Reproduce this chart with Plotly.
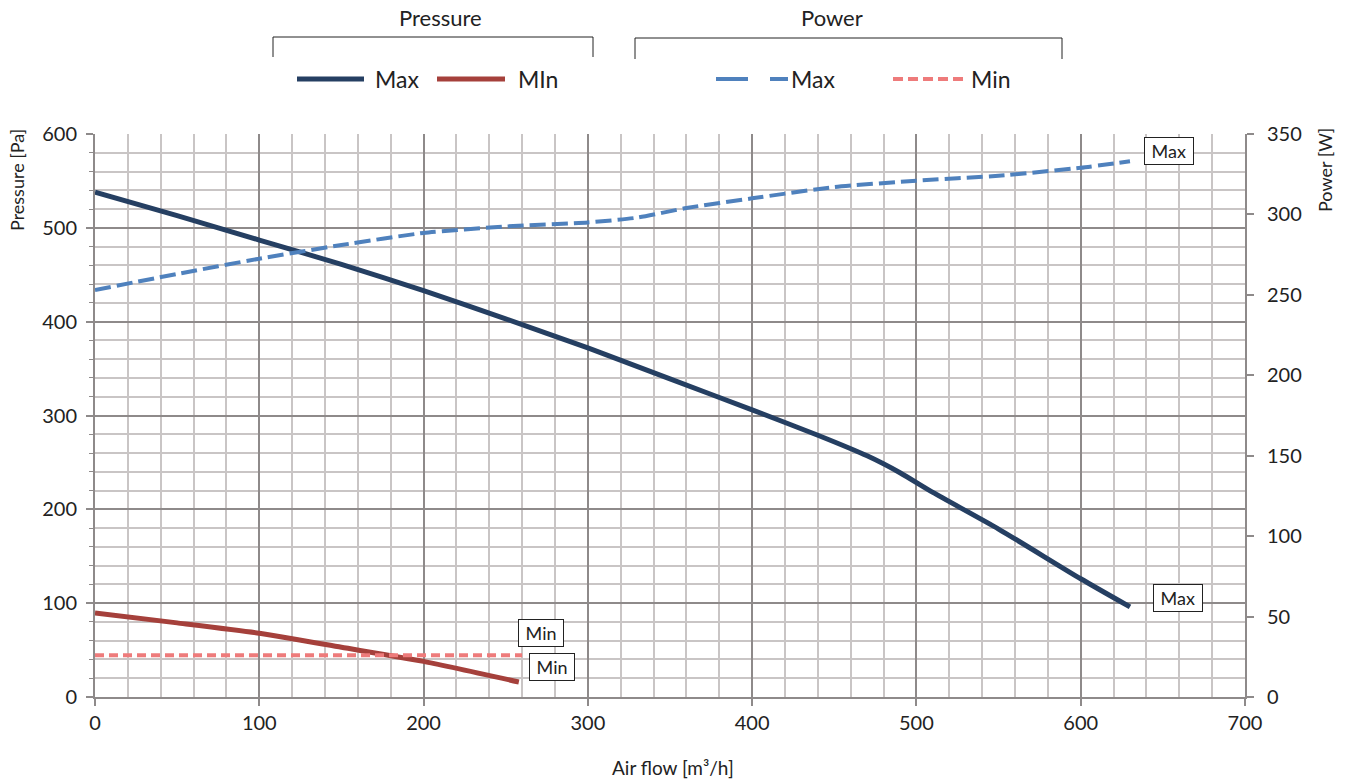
import plotly.graph_objects as go

# ---- data ----
p_max_x = [0, 50, 100, 150, 200, 250, 300, 350, 400, 440, 470, 490, 510, 550, 600, 630]
p_max_y = [538, 513, 487, 461, 433, 403, 372, 339, 306, 279, 257, 239, 218, 179, 126, 96]

p_min_x = [0, 50, 100, 150, 200, 258]
p_min_y = [89.5, 79, 68, 53, 38, 16]

w_max_x = [0, 50, 100, 150, 200, 250, 300, 330, 360, 400, 450, 500, 550, 600, 630]
w_max_y = [253, 263, 272.5, 281, 288.5, 292.5, 295, 298, 304, 310, 317, 321, 324, 329, 333]

w_min_x = [0, 260]
w_min_y = [26, 26]

x_ticks = [0, 100, 200, 300, 400, 500, 600, 700]
y_ticks = [0, 100, 200, 300, 400, 500, 600]
y2_ticks = [0, 50, 100, 150, 200, 250, 300, 350]

NAVY = "#253F62"
RED = "#A5403B"
BLUE = "#4F81BD"
PINK = "#EE7B7B"
FONT = "Lato"

W, H = 1349, 783
# plot area in page pixels
L, R, T, B = 95, 1245, 134, 697


def px(x):
    return (x - L) / (R - L)


def py(y):
    return (B - y) / (B - T)


fig = go.Figure()
fig.add_trace(go.Scatter(x=p_max_x, y=p_max_y, mode="lines",
                         line=dict(color=NAVY, width=5, shape="spline", smoothing=0.6),
                         name="Pressure Max", showlegend=False))
fig.add_trace(go.Scatter(x=p_min_x, y=p_min_y, mode="lines",
                         line=dict(color=RED, width=5, shape="spline", smoothing=0.5),
                         name="Pressure Min", showlegend=False))
fig.add_trace(go.Scatter(x=w_max_x, y=w_max_y, yaxis="y2", mode="lines",
                         line=dict(color=BLUE, width=4, dash="16px,6px", shape="spline", smoothing=0.5),
                         name="Power Max", showlegend=False))
fig.add_trace(go.Scatter(x=w_min_x, y=w_min_y, yaxis="y2", mode="lines",
                         line=dict(color=PINK, width=4, dash="9px,5px"),
                         name="Power Min", showlegend=False))

MINOR = "#C9C5C5"
MAJOR = "#8E8A8A"

fig.update_layout(
    width=W, height=H,
    margin=dict(l=L, r=W - R, t=T, b=H - B, autoexpand=False),
    paper_bgcolor="white", plot_bgcolor="white",
    font=dict(family=FONT, size=20, color="#222"),
    xaxis=dict(range=[0, 700], tickvals=x_ticks, showgrid=True, gridcolor=MAJOR, gridwidth=2,
               minor=dict(dtick=20, showgrid=True, gridcolor=MINOR, gridwidth=2),
               ticks="outside", ticklen=7, tickcolor=MAJOR, tickwidth=2,
               showline=True, linecolor=MAJOR, linewidth=2, zeroline=False,
               tickfont=dict(size=20)),
    yaxis=dict(range=[0, 600], tickvals=y_ticks, showgrid=True, gridcolor=MAJOR, gridwidth=2,
               minor=dict(dtick=20, showgrid=True, gridcolor=MINOR, gridwidth=2,
                          ticks="outside", ticklen=4, tickcolor=MAJOR, tickwidth=1),
               ticks="outside", ticklen=7, tickcolor=MAJOR, tickwidth=2,
               showline=True, linecolor=MAJOR, linewidth=2, zeroline=False,
               ticklabelstandoff=5, tickfont=dict(size=20)),
    yaxis2=dict(range=[0, 350], tickvals=y2_ticks, overlaying="y", side="right", showgrid=False,
                ticks="outside", ticklen=7, tickcolor=MAJOR, tickwidth=2,
                showline=True, linecolor=MAJOR, linewidth=2, zeroline=False,
                ticklabelstandoff=9, tickfont=dict(size=20)),
)

ann = []
mid = dict(xref="paper", yref="paper", showarrow=False, xanchor="center", yanchor="middle")
# axis titles
ann.append(dict(text="Pressure [Pa]", x=px(17), y=py(180), textangle=-90, font=dict(size=18), **mid))
ann.append(dict(text="Power [W]", x=px(1325), y=py(170), textangle=-90, font=dict(size=18), **mid))
ann.append(dict(text="Air flow [m³/h]", x=px(673), y=py(767), font=dict(size=19), **mid))

# data labels
box = dict(showarrow=False, bordercolor="#222", borderwidth=1, bgcolor="white", borderpad=2,
           font=dict(size=18), xanchor="left", yanchor="middle")
ann.append(dict(text="&nbsp;Max&nbsp;", x=p_max_x[-1], y=p_max_y[-1], xref="x", yref="y", xshift=23, yshift=9, **box))
ann.append(dict(text="&nbsp;Max&nbsp;", x=w_max_x[-1], y=w_max_y[-1], xref="x", yref="y2", xshift=14, yshift=10, **box))
ann.append(dict(text="&nbsp;Min&nbsp;", x=w_min_x[-1], y=w_min_y[-1], xref="x", yref="y2", xshift=-4, yshift=22, **box))
ann.append(dict(text="&nbsp;Min&nbsp;", x=p_min_x[-1], y=p_min_y[-1], xref="x", yref="y", xshift=10, yshift=15, **box))

# custom legend
ann.append(dict(text="Pressure", x=px(440), y=py(18), font=dict(size=22), **mid))
ann.append(dict(text="Power", x=px(832), y=py(18), font=dict(size=22), **mid))
leg = dict(xref="paper", yref="paper", showarrow=False, xanchor="left", yanchor="middle", font=dict(size=23))
for txt, xx in [("Max", 373), ("MIn", 516), ("Max", 789), ("Min", 969)]:
    ann.append(dict(text=txt, x=px(xx), y=py(79), **leg))
fig.update_layout(annotations=ann)

shapes = []
# brackets
for x0, x1, y0, y1 in [(273, 593, 37, 57), (635, 1062, 38, 59)]:
    shapes.append(dict(type="path", xref="paper", yref="paper",
                       path=f"M {px(x0)},{py(y1)} L {px(x0)},{py(y0)} L {px(x1)},{py(y0)} L {px(x1)},{py(y1)}",
                       line=dict(color="#222", width=1)))
# legend line samples
shapes.append(dict(type="line", xref="paper", yref="paper", x0=px(297), x1=px(364), y0=py(79), y1=py(79),
                   line=dict(color=NAVY, width=5)))
shapes.append(dict(type="line", xref="paper", yref="paper", x0=px(437), x1=px(505), y0=py(79), y1=py(79),
                   line=dict(color=RED, width=5)))
shapes.append(dict(type="line", xref="paper", yref="paper", x0=px(716), x1=px(788), y0=py(79), y1=py(79),
                   line=dict(color=BLUE, width=4, dash="32px,22px")))
shapes.append(dict(type="line", xref="paper", yref="paper", x0=px(893), x1=px(968), y0=py(79), y1=py(79),
                   line=dict(color=PINK, width=4, dash="10px,5px")))
fig.update_layout(shapes=shapes)

fig.write_html("out.html", config={"displayModeBar": False},
               post_script="document.body.style.margin='0';document.body.style.overflow='hidden';")
